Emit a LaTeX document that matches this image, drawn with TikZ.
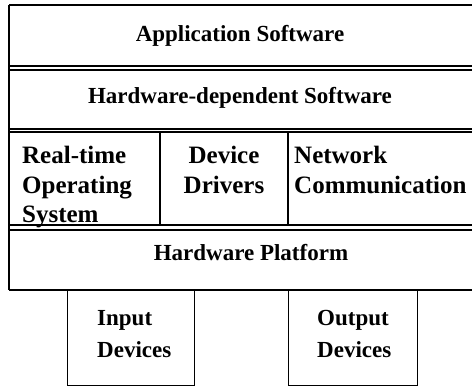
\documentclass[tikz,border=0pt]{standalone}
\usepackage{fontspec}
\setmainfont{Liberation Serif}
\begin{document}
\begin{tikzpicture}[x=1pt,y=-1pt,
  heavy/.style={line width=2.4pt},
  light/.style={line width=1.4pt},
  lbl/.style={font=\bfseries\fontsize{23}{28.5}\selectfont, inner sep=0pt},
  cell/.style={font=\bfseries\fontsize{25}{29.5}\selectfont, inner sep=0pt},
  stack/.style={cell, align=left, anchor=north west},
  dev/.style={font=\bfseries\fontsize{23}{32}\selectfont, inner sep=0pt, align=left, anchor=north west}]
\useasboundingbox (0,0) rectangle (472,387);
% layer boundaries of the stack
\draw[heavy] (9,5) -- (476,5);
\draw[heavy] (9,5) -- (9,290);
\draw[light] (9,66) -- (476,66);
\draw[heavy] (9,70) -- (476,70);
\draw[light] (9,129) -- (476,129);
\draw[heavy] (9,132) -- (476,132);
\draw[heavy] (9,225) -- (476,225);
\draw[light] (9,230) -- (476,230);
\draw[heavy] (9,290) -- (476,290);
\draw[light] (476,5) -- (476,290);
% column dividers in the middle layer
\draw[light] (160,132) -- (160,225);
\draw[light] (288,132) -- (288,225);
% peripheral device boxes
\node[draw, light, minimum width=127pt, minimum height=95pt, anchor=north west, inner sep=0pt] (inbox) at (67,290) {};
\node[draw, light, minimum width=129pt, minimum height=95pt, anchor=north west, inner sep=0pt] (outbox) at (288,290) {};
% labels
\node[lbl] (app) at (240,36) {Application Software};
\node[lbl] (hds) at (240,98) {Hardware-dependent Software};
\node[stack] (rtos) at (22,146) {Real-time\\Operating\\System};
\node[cell, align=center, anchor=north] (drv) at (224,146) {Device\\Drivers};
\node[stack] (net) at (294,146) {Network\\Communication};
\node[lbl] (hwp) at (251,253) {Hardware Platform};
\node[dev] (indev) at (97,310) {Input\\Devices};
\node[dev] (outdev) at (317,310) {Output\\Devices};
\end{tikzpicture}
\end{document}
